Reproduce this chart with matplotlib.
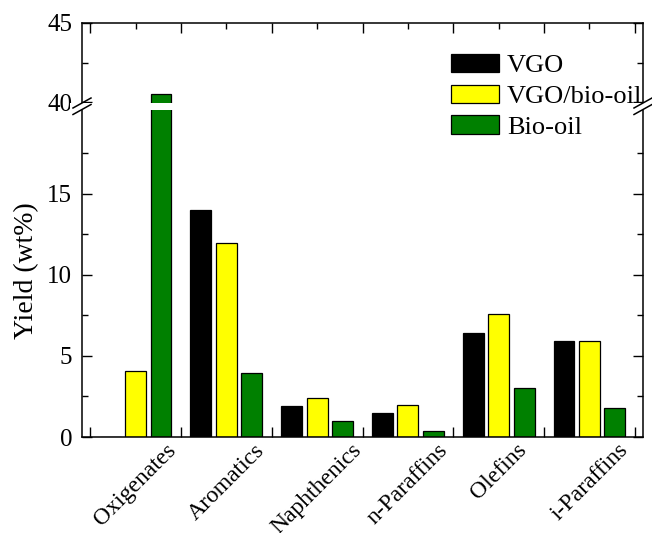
import matplotlib.pyplot as plt
import numpy as np
from matplotlib.lines import Line2D
from matplotlib.patches import Rectangle

plt.rcParams['font.family'] = ['Liberation Serif', 'DejaVu Serif']
plt.rcParams['font.size'] = 18

categories = ['Oxigenates', 'Aromatics', 'Naphthenics', 'n-Paraffins', 'Olefins', 'i-Paraffins']
series = ['VGO', 'VGO/bio-oil', 'Bio-oil']
vgo = [0.0, 14.0, 1.9, 1.5, 6.4, 5.9]
vgo_bio = [4.05, 12.0, 2.4, 1.95, 7.6, 5.95]
bio = [40.55, 3.95, 0.97, 0.35, 3.0, 1.8]
colors = ['#000000', '#ffff00', '#008000']

W, H = 652, 533
fig = plt.figure(figsize=(W / 100, H / 100), dpi=100)

def px(x0, y0, x1, y1):
    # pixel box (top-left origin) -> figure fraction rect
    return [x0 / W, 1 - y1 / H, (x1 - x0) / W, (y1 - y0) / H]

ax_lo = fig.add_axes(px(82, 104, 643, 437))
ax_hi = fig.add_axes(px(82, 23, 643, 104))

x = np.arange(len(categories))
offsets = [-0.28, 0.0, 0.28]
width = 0.23
for ax in (ax_lo, ax_hi):
    for vals, off, c, name in zip([vgo, vgo_bio, bio], offsets, colors, series):
        ax.bar(x + off, vals, width, color=c, edgecolor='black', linewidth=0.9, label=name)
    ax.set_xlim(-0.59, 5.59)
    ax.set_xticks(np.arange(-0.5, 6, 1))
    ax.set_xticks(x, minor=True)
    ax.tick_params(which='both', direction='in', width=1, right=True)
    ax.tick_params(which='major', length=7)
    ax.tick_params(which='minor', length=4)
    ax.tick_params(axis='y', pad=7)
    for s in ax.spines.values():
        s.set_linewidth(1.1)

ax_lo.set_ylim(0, 20.55)
ax_lo.set_yticks([0, 5, 10, 15])
ax_lo.set_yticks([2.5, 7.5, 12.5, 17.5], minor=True)
ax_lo.spines['top'].set_visible(False)
ax_lo.tick_params(axis='x', which='both', top=False, bottom=True, labelbottom=False)
ax_lo.tick_params(axis='x', which='minor', length=0, pad=2)
ax_lo.set_xticklabels(categories, minor=True, rotation=45, ha='center', fontsize=17)
ax_lo.tick_params(axis='x', which='minor', labelbottom=True)
ax_lo.set_ylabel('Yield (wt%)', fontsize=20, labelpad=6)

ax_hi.set_ylim(39.9, 45)
ax_hi.set_yticks([40, 45])
ax_hi.set_yticks([42.5], minor=True)
ax_hi.spines['bottom'].set_visible(False)
ax_hi.tick_params(axis='x', which='both', top=True, bottom=False, labelbottom=False)

# white gap across the break
fig.add_artist(Rectangle((70 / W, 1 - 109.5 / H), 585 / W, 6.5 / H,
                         transform=fig.transFigure, facecolor='white',
                         edgecolor='none', zorder=5))
# break marks on both spines
for xs in (82, 643):
    for yc in (103, 109.5):
        fig.add_artist(Line2D([(xs - 9) / W, (xs + 9) / W],
                              [1 - (yc + 5) / H, 1 - (yc - 5) / H],
                              transform=fig.transFigure, color='black',
                              linewidth=1.1, zorder=6))

handles, labels = ax_lo.get_legend_handles_labels()
fig.legend(handles, labels, loc='upper left', bbox_to_anchor=(451 / W, 1 - 54 / H),
           frameon=False, borderpad=0, borderaxespad=0, handlelength=1.82,
           handleheight=0.68, handletextpad=0.3, labelspacing=0.28, fontsize=19)

fig.savefig('out.png', dpi=100)
